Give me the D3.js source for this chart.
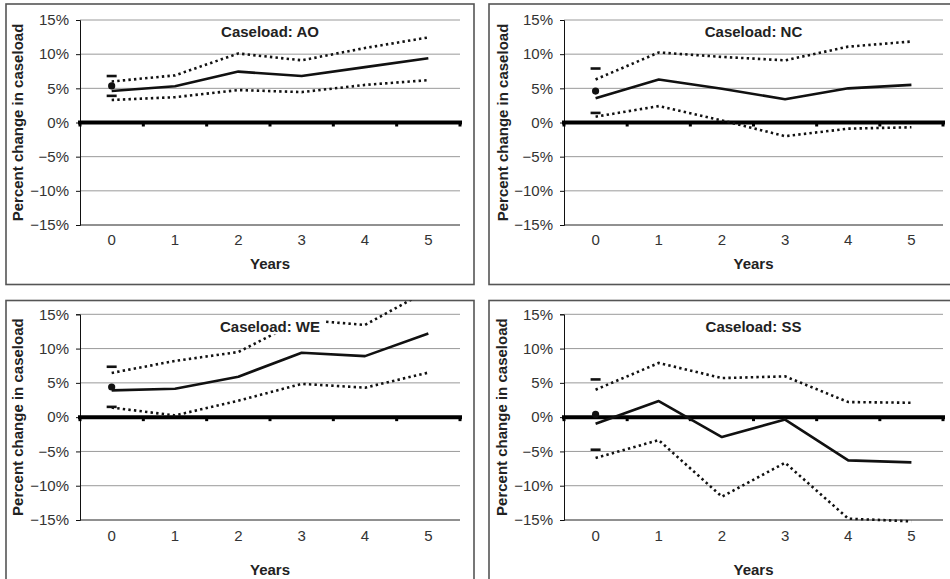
<!DOCTYPE html>
<html>
<head>
<meta charset="utf-8">
<script src="https://cdn.jsdelivr.net/npm/d3@7/dist/d3.min.js"></script>
<style>
  body { margin: 0; background: #fff; }
  text { font-family: "Liberation Sans", Arial, sans-serif; }
</style>
</head>
<body>
<script>
// values, in percent
var years = [0, 1, 2, 3, 4, 5];
var yTicks = [15, 10, 5, 0, -5, -10, -15];
var caseloads = ["AO", "NC", "WE", "SS"];

var aoMid  = [4.6, 5.3, 7.45, 6.8, 8.1, 9.4];
var aoHigh = [6.0, 6.9, 10.1, 9.1, 10.9, 12.45];
var aoLow  = [3.3, 3.7, 4.75, 4.45, 5.5, 6.2];
var aoYear0 = [5.35, 6.8, 3.9];   // point, upper, lower

var ncMid  = [3.55, 6.3, 4.95, 3.4, 5.0, 5.5];
var ncHigh = [6.3, 10.25, 9.6, 9.1, 11.1, 11.85];
var ncLow  = [0.85, 2.4, 0.3, -2.0, -0.9, -0.7];
var ncYear0 = [4.6, 7.9, 1.4];

var weMid  = [3.9, 4.15, 5.9, 9.4, 8.9, 12.2];
var weHigh = [6.45, 8.2, 9.5, 14.2, 13.45, 18.5];
var weLow  = [1.4, 0.25, 2.4, 4.85, 4.3, 6.5];
var weYear0 = [4.4, 7.35, 1.5];

var ssMid  = [-0.97, 2.35, -2.9, -0.35, -6.3, -6.6];
var ssHigh = [4.0, 7.9, 5.7, 5.95, 2.2, 2.1];
var ssLow  = [-5.95, -3.35, -11.6, -6.65, -14.8, -15.2];
var ssYear0 = [0.4, 5.5, -4.75];

var series = {
  AO: { mid: aoMid, high: aoHigh, low: aoLow, y0: aoYear0 },
  NC: { mid: ncMid, high: ncHigh, low: ncLow, y0: ncYear0 },
  WE: { mid: weMid, high: weHigh, low: weLow, y0: weYear0 },
  SS: { mid: ssMid, high: ssHigh, low: ssLow, y0: ssYear0 }
};

var svg = d3.select("body").append("svg")
    .attr("width", 950)
    .attr("height", 579);

// panel geometry
var panels = [
  { box: [6, 4, 468, 280.5],     plot: [80, 20, 380, 205],       ylab: 18,  xlab: 239.5, years: 263.5 },
  { box: [489, 4, 480, 280.5],   plot: [564, 20, 379, 205],      ylab: 503, xlab: 239.5, years: 263.5 },
  { box: [6, 300.5, 468, 300],   plot: [80, 314.3, 380, 205.7],  ylab: 18,  xlab: 536,   years: 570 },
  { box: [489, 300.5, 480, 300], plot: [564, 314.3, 379, 205.7], ylab: 502, xlab: 536,   years: 570 }
];

function pct(d) { return (d < 0 ? "\u2212" : "") + Math.abs(d) + "%"; }

caseloads.forEach(function(name, i) {
  var p = panels[i];
  var s = series[name];
  var L = p.plot[0], T = p.plot[1], W = p.plot[2], H = p.plot[3];

  var x = d3.scaleBand().domain(years).range([L, L + W]);
  var y = d3.scaleLinear().domain([-15, 15]).range([T + H, T]);
  var cx = function(d) { return x(d) + x.bandwidth() / 2; };

  var g = svg.append("g");

  g.append("clipPath").attr("id", "clip" + i)
    .append("rect")
      .attr("x", p.box[0]).attr("y", p.box[1])
      .attr("width", p.box[2]).attr("height", p.box[3]);

  g.append("rect")
      .attr("x", p.box[0]).attr("y", p.box[1])
      .attr("width", p.box[2]).attr("height", p.box[3])
      .attr("fill", "#fff")
      .attr("stroke", "#555")
      .attr("stroke-width", 1.6);

  // gridlines
  g.selectAll(".grid").data(yTicks.filter(function(d) { return d !== 0 && d !== -15; }))
    .enter().append("line")
      .attr("x1", L).attr("x2", L + W)
      .attr("y1", function(d) { return y(d); })
      .attr("y2", function(d) { return y(d); })
      .attr("stroke", "#9a9a9a")
      .attr("stroke-width", 1);

  g.append("line")
      .attr("x1", L).attr("x2", L + W)
      .attr("y1", y(-15)).attr("y2", y(-15))
      .attr("stroke", "#222").attr("stroke-width", 1);

  // y axis
  var ya = g.append("g")
      .attr("transform", "translate(" + L + ",0)")
      .call(d3.axisLeft(y).tickValues(yTicks).tickFormat(pct).tickSize(4).tickPadding(7));
  ya.attr("font-size", null).attr("font-family", null);
  ya.select(".domain").attr("stroke", "#111");
  ya.selectAll(".tick line").attr("stroke", "#111");
  ya.selectAll("text").style("font-size", "15px").attr("fill", "#333");

  // x tick labels at the bottom
  var xa = g.append("g")
      .attr("transform", "translate(0," + p.xlab + ")")
      .call(d3.axisBottom(x).tickSize(0).tickPadding(0));
  xa.attr("font-size", null).attr("font-family", null);
  xa.select(".domain").remove();
  xa.selectAll("text").style("font-size", "15px").attr("fill", "#333")
      .attr("y", 0).attr("dy", "0.35em");

  // thick zero axis with square ticks
  g.append("line")
      .attr("x1", L - 2).attr("x2", L + W + 2)
      .attr("y1", y(0)).attr("y2", y(0))
      .attr("stroke", "#000").attr("stroke-width", 4);
  g.selectAll(".ztick").data(d3.range(years.length + 1))
    .enter().append("rect")
      .attr("x", function(k) { return L + k * x.step() - 1.5; })
      .attr("y", y(0))
      .attr("width", 3).attr("height", 4)
      .attr("fill", "#000");

  // lines
  var line = d3.line()
      .x(function(d, k) { return cx(years[k]); })
      .y(function(d) { return y(d); });
  var lines = g.append("g").attr("clip-path", "url(#clip" + i + ")");
  [s.high, s.low].forEach(function(v) {
    lines.append("path")
        .attr("d", line(v))
        .attr("fill", "none")
        .attr("stroke", "#111")
        .attr("stroke-width", 2.6)
        .attr("stroke-dasharray", "2.4,3.2");
  });
  lines.append("path")
      .attr("d", line(s.mid))
      .attr("fill", "none")
      .attr("stroke", "#111")
      .attr("stroke-width", 2.6)
      .attr("stroke-linejoin", "round");

  // year 0 point with its bounds
  g.append("circle")
      .attr("cx", cx(0)).attr("cy", y(s.y0[0]))
      .attr("r", 3.6).attr("fill", "#111");
  g.selectAll(".bound").data(s.y0.slice(1))
    .enter().append("line")
      .attr("x1", cx(0) - 5).attr("x2", cx(0) + 5)
      .attr("y1", function(d) { return y(d); })
      .attr("y2", function(d) { return y(d); })
      .attr("stroke", "#111").attr("stroke-width", 2.6);

  // title with white box behind
  var title = g.append("text")
      .attr("x", L + W / 2)
      .attr("y", T + 12)
      .attr("dy", "0.35em")
      .attr("text-anchor", "middle")
      .style("font-size", "15px")
      .style("font-weight", "bold")
      .attr("fill", "#222")
      .text("Caseload: " + name);
  var bb = title.node().getBBox();
  g.insert("rect", function() { return title.node(); })
      .attr("x", bb.x - 4).attr("y", bb.y)
      .attr("width", bb.width + 8).attr("height", bb.height)
      .attr("fill", "#fff");

  g.append("text")
      .attr("x", L + W / 2)
      .attr("y", p.years)
      .attr("dy", "0.35em")
      .attr("text-anchor", "middle")
      .style("font-size", "15px")
      .style("font-weight", "bold")
      .attr("fill", "#222")
      .text("Years");

  g.append("text")
      .attr("transform", "translate(" + p.ylab + "," + (T + H / 2) + ")rotate(-90)")
      .attr("dy", "0.35em")
      .attr("text-anchor", "middle")
      .style("font-size", "15px")
      .style("font-weight", "bold")
      .attr("fill", "#222")
      .text("Percent change in caseload");
});
</script>
</body>
</html>
